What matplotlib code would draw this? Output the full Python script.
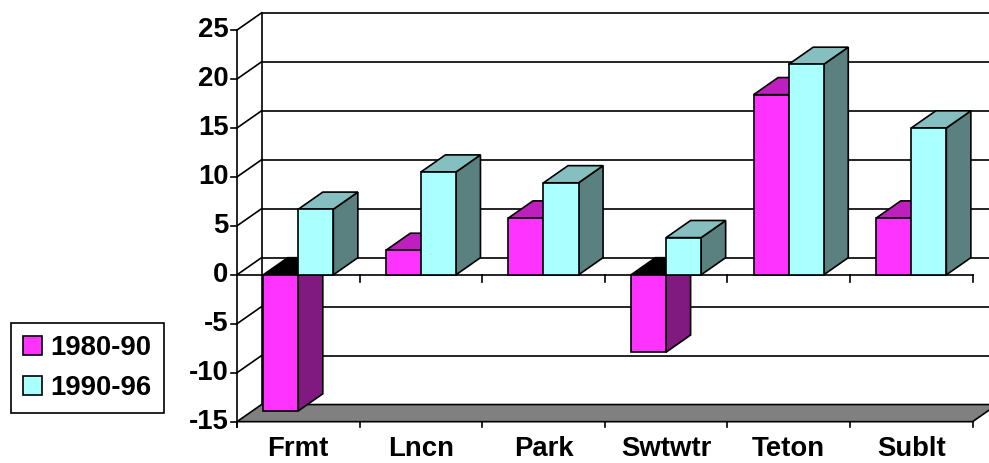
import matplotlib.pyplot as plt
from matplotlib.patches import Polygon, Patch

plt.rcParams['font.family'] = ['Liberation Sans', 'DejaVu Sans']
plt.rcParams['font.weight'] = 'bold'

# 各县人口增长率 (%)
regions = ['Frmt', 'Lncn', 'Park', 'Swtwtr', 'Teton', 'Sublt']
series_names = ['1980-90', '1990-96']
growth_8090 = [-13.9, 2.5, 5.8, -7.9, 18.4, 5.8]
growth_9096 = [6.7, 10.5, 9.4, 3.8, 21.5, 15.0]
y_ticks = [25, 20, 15, 10, 5, 0, -5, -10, -15]

# 正面, 顶面, 侧面 颜色
colors = {
    '1980-90': ('#ff33ff', '#bf1fbf', '#801a80'),
    '1990-96': ('#aaffff', '#85bfbf', '#5a8080'),
}

y_min, y_max = -15, 25
dx, dy = 0.2, 1.75      # 立体进深 (类别单位, 数值单位)
gap, bw = 0.214, 0.286  # 柱间距与柱宽
lw = 1.2
fs = 19.8

fig = plt.figure(figsize=(9.89, 4.63), dpi=100)
ax = fig.add_axes([0, 0, 1, 1])
ax.set_xlim(-1.933, 6.134)
ax.set_ylim(-19.22, 28.07)
ax.axis('off')

n = len(regions)

# 背景墙网格线和左侧墙斜线
for v in y_ticks:
    if v > y_min:
        ax.plot([dx, n + dx + 0.5], [v + dy, v + dy], color='black', lw=lw, zorder=1)
        ax.plot([0, dx], [v, v + dy], color='black', lw=lw, zorder=1)
    ax.plot([-0.05, 0], [v, v], color='black', lw=lw, zorder=1)
    ax.text(-0.07, v, str(v), ha='right', va='center', fontsize=fs, fontweight='bold')
ax.plot([dx, dx], [y_min + dy, y_max + dy], color='black', lw=lw, zorder=1)
ax.plot([0, 0], [y_min - 0.5, y_max], color='black', lw=lw, zorder=1)

# 底面
floor = Polygon([(0, y_min), (n, y_min), (n + dx, y_min + dy), (dx, y_min + dy)],
                closed=True, fc='#808080', ec='black', lw=lw, zorder=1)
ax.add_patch(floor)
ax.plot([0, n], [0, 0], color='black', lw=lw, zorder=1)
for k in range(n + 1):
    ax.plot([k, k], [y_min, y_min - 0.5], color='black', lw=lw, zorder=1)
    if k > 0:
        ax.plot([k, k], [0, -0.7], color='black', lw=lw, zorder=1)


def draw_bar(x0, v, cols, z):
    front, top, side = cols
    x1 = x0 + bw
    side_poly = [(x1, 0), (x1 + dx, dy), (x1 + dx, v + dy), (x1, v)]
    if v >= 0:
        top_poly = [(x0, v), (x1, v), (x1 + dx, v + dy), (x0 + dx, v + dy)]
        top_c = top
    else:
        top_poly = [(x0, 0), (x1, 0), (x1 + dx, dy), (x0 + dx, dy)]
        top_c = 'black'
    front_poly = [(x0, 0), (x1, 0), (x1, v), (x0, v)]
    for pts, c in [(side_poly, side), (top_poly, top_c), (front_poly, front)]:
        ax.add_patch(Polygon(pts, closed=True, fc=c, ec='black', lw=lw,
                             joinstyle='miter', zorder=z))


z = 2
for i in range(n):
    draw_bar(i + gap, growth_8090[i], colors['1980-90'], z)
    draw_bar(i + gap + bw, growth_9096[i], colors['1990-96'], z + 1)
    z += 2
    ax.text(i + 0.5, -17.8, regions[i], ha='center', va='center',
            fontsize=fs, fontweight='bold')

handles = [Patch(fc=colors[s][0], ec='black', lw=lw, label=s) for s in series_names]
leg = fig.legend(handles=handles, loc='upper left', bbox_to_anchor=(11 / 989, 1 - 322.7 / 463),
                 frameon=True, fancybox=False, edgecolor='black', framealpha=1,
                 prop={'size': fs, 'weight': 'bold'}, handlelength=0.68, handleheight=0.68,
                 handletextpad=0.3, borderpad=0.45, labelspacing=0.5, borderaxespad=0)
leg.get_frame().set_linewidth(lw)

plt.savefig('out.png', dpi=100)
